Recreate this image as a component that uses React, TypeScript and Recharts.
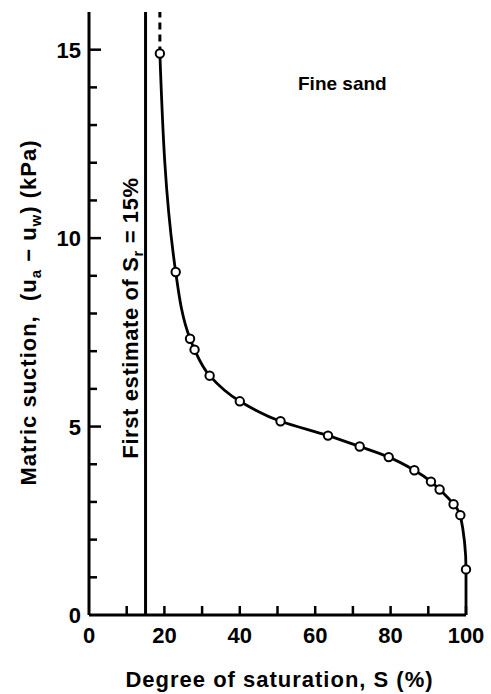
import { Line, LineChart, ReferenceLine, XAxis, YAxis } from 'recharts';

const saturation = [18.8, 23, 26.8, 28, 32, 40, 50.8, 63.4, 71.8, 79.5, 86.3, 90.7, 93, 96.7, 98.5, 100];
const suction = [14.9, 9.1, 7.33, 7.04, 6.35, 5.67, 5.14, 4.76, 4.47, 4.19, 3.84, 3.54, 3.33, 2.94, 2.65, 1.21];
// where the drawn curve meets the S axis
const curveEnd = { s: 100, psi: 0 };

const xTicks = [0, 10, 20, 30, 40, 50, 60, 70, 80, 90, 100];
const xLabels = [0, 20, 40, 60, 80, 100];
const yTicks = [0, 1, 2, 3, 4, 5, 6, 7, 8, 9, 10, 11, 12, 13, 14, 15];
const yLabels = [0, 5, 10, 15];

const residualSr = 15;
const asymptote = 18.8;

const FONT = '"Liberation Sans", Arial, sans-serif';

const data = [
  ...saturation.map((s, i) => ({ s, psi: suction[i], measured: true })),
  { ...curveEnd, measured: false },
];

function XTick(props: any) {
  const { x, y, payload } = props;
  const v = payload.value;
  return (
    <g>
      {v !== 0 && <line x1={x} y1={y} x2={x} y2={y - 9} stroke="#000" strokeWidth={2.5} />}
      {xLabels.includes(v) && (
        <text x={x} y={y + 28} textAnchor="middle" fontFamily={FONT} fontWeight="bold" fontSize={22} fill="#000">
          {v}
        </text>
      )}
    </g>
  );
}

function YTick(props: any) {
  const { x, y, payload } = props;
  const v = payload.value;
  const major = yLabels.includes(v);
  return (
    <g>
      {v !== 0 && <line x1={x} y1={y} x2={x + (major ? 12 : 8)} y2={y} stroke="#000" strokeWidth={2.5} />}
      {major && (
        <text x={x - 8} y={y + 8} textAnchor="end" fontFamily={FONT} fontWeight="bold" fontSize={22} fill="#000">
          {v}
        </text>
      )}
    </g>
  );
}

function Dot(props: any) {
  const { cx, cy, payload } = props;
  if (!payload.measured) return <g key={`d${cx}`} />;
  return <circle key={`d${cx}-${cy}`} cx={cx} cy={cy} r={4.2} fill="#fff" stroke="#000" strokeWidth={2} />;
}

function YTitle(props: any) {
  const vb = props.viewBox;
  const x = 36;
  const cy = vb.y + vb.height / 2 - 1;
  return (
    <text x={x} y={cy} transform={`rotate(-90 ${x} ${cy})`} textAnchor="middle" fontFamily={FONT} fontWeight="bold" fontSize={22} letterSpacing={1} fill="#000">
      Matric suction,{'\u00a0\u00a0'}(u
      <tspan dy={5} fontSize={15}>a</tspan>
      <tspan dy={-5}> − u</tspan>
      <tspan dy={5} fontSize={15}>w</tspan>
      <tspan dy={-5}>) (kPa)</tspan>
    </text>
  );
}

function XTitle(props: any) {
  const vb = props.viewBox;
  return (
    <text x={vb.x + vb.width / 2 + 2} y={687} textAnchor="middle" fontFamily={FONT} fontWeight="bold" fontSize={22} letterSpacing={1} fill="#000">
      Degree of saturation, S (%)
    </text>
  );
}

function SrLabel(props: any) {
  const vb = props.viewBox;
  const x = vb.x - 8;
  const cy = 318;
  return (
    <text x={x} y={cy} transform={`rotate(-90 ${x} ${cy})`} textAnchor="middle" fontFamily={FONT} fontWeight="bold" fontSize={22} letterSpacing={0.6} fill="#000">
      First estimate of S
      <tspan dy={5} fontSize={15}>r</tspan>
      <tspan dy={-5}> = 15%</tspan>
    </text>
  );
}

export default function App() {
  return (
    <div style={{ position: 'absolute', left: 0, top: 0, width: 491, height: 694, background: '#fff' }}>
      <LineChart width={491} height={694} data={data} margin={{ top: 12, right: 25, bottom: 0, left: 0 }}>
        <XAxis
          type="number"
          dataKey="s"
          domain={[0, 100]}
          ticks={xTicks}
          interval={0}
          height={79}
          tickSize={0}
          tickMargin={0}
          tickLine={false}
          tick={<XTick />}
          axisLine={{ stroke: '#000', strokeWidth: 3 }}
          label={<XTitle />}
        />
        <YAxis
          type="number"
          dataKey="psi"
          domain={[0, 16]}
          ticks={yTicks}
          interval={0}
          width={89}
          tickSize={0}
          tickMargin={0}
          tickLine={false}
          tick={<YTick />}
          axisLine={{ stroke: '#000', strokeWidth: 3 }}
          label={<YTitle />}
        />
        <ReferenceLine x={residualSr} stroke="#000" strokeWidth={3} label={<SrLabel />} />
        <ReferenceLine
          segment={[{ x: asymptote, y: suction[0] }, { x: asymptote, y: 16 }]}
          stroke="#000"
          strokeWidth={3}
          strokeDasharray="7 5"
        />
        <Line
          type="monotoneY"
          dataKey="psi"
          stroke="#000"
          strokeWidth={2.8}
          dot={<Dot />}
          activeDot={false}
          isAnimationActive={false}
        />
      </LineChart>
      <div
        style={{
          position: 'absolute',
          left: 298,
          top: 73,
          fontFamily: FONT,
          fontWeight: 'bold',
          fontSize: 19,
          color: '#000',
          whiteSpace: 'nowrap',
        }}
      >
        Fine sand
      </div>
    </div>
  );
}
